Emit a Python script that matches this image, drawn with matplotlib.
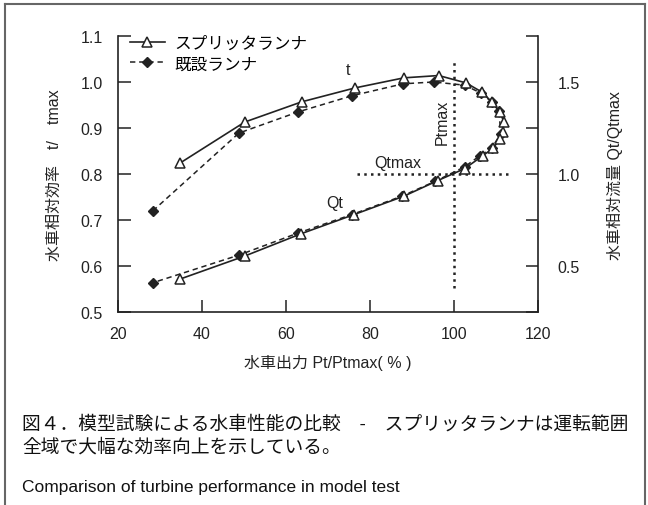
import matplotlib
matplotlib.use("Agg")
import matplotlib.pyplot as plt
from matplotlib.lines import Line2D

plt.rcParams['font.family'] = ['Liberation Sans', 'Noto Sans CJK JP', 'DejaVu Sans']

# splitter runner (triangles)
split_eff_x = [34.8, 50.2, 63.8, 76.4, 88.1, 96.4, 102.9, 106.7, 109.0, 111.0, 111.9]
split_eff_y = [0.824, 0.913, 0.957, 0.987, 1.009, 1.014, 0.998, 0.978, 0.957, 0.935, 0.913]
split_q_x = [111.7, 111.0, 109.3, 106.9, 102.6, 96.2, 88.1, 76.2, 63.5, 50.2, 34.8]
split_q_y = [1.23, 1.19, 1.14, 1.10, 1.03, 0.965, 0.88, 0.78, 0.675, 0.555, 0.43]

# existing runner (diamonds)
old_eff_x = [28.3, 48.8, 62.9, 75.7, 87.9, 95.2, 102.6, 106.4, 109.0, 110.7]
old_eff_y = [0.720, 0.889, 0.935, 0.970, 0.996, 1.000, 0.993, 0.976, 0.957, 0.937]
old_q_x = [111.2, 109.0, 106.2, 102.6, 95.5, 87.6, 75.7, 62.9, 48.8, 28.3]
old_q_y = [1.22, 1.14, 1.10, 1.04, 0.96, 0.88, 0.78, 0.68, 0.56, 0.41]

x_ticks = [20, 40, 60, 80, 100, 120]
eff_ticks = [0.5, 0.6, 0.7, 0.8, 0.9, 1.0, 1.1]
q_ticks = [0.5, 1.0, 1.5]
q_minor = [0.25, 0.75, 1.25, 1.75]


def q2eff(q):
    return 0.6 + (q - 0.5) / 2.5


def eff2q(e):
    return 0.5 + (e - 0.6) * 2.5


ink = '#222222'
fig = plt.figure(figsize=(6.48, 5.06), dpi=100)
ax = fig.add_axes([0.182, 0.381, 0.648, 0.546])

# each runner drawn as one continuous loop: efficiency then flow (mapped to left scale)
ax.plot(split_eff_x + split_q_x, split_eff_y + [q2eff(v) for v in split_q_y],
        color=ink, lw=1.2, marker='^', ms=7.5, mfc='white', mec=ink, mew=1.1,
        label='スプリッタランナ', zorder=3)
ax.plot(old_eff_x + old_q_x, old_eff_y + [q2eff(v) for v in old_q_y],
        color=ink, lw=1.1, ls=(0, (3.5, 2.5)), marker='D', ms=5, mfc=ink, mec=ink,
        label='既設ランナ', zorder=2)

# Ptmax / Qtmax reference lines
ax.plot([100, 100], [0.553, 1.045], color=ink, lw=1.8, ls=(0, (1, 1.7)))
ax.plot([77, 113.5], [0.8, 0.8], color=ink, lw=1.8, ls=(0, (1, 1.7)))
ax.text(97.2, 0.915, 'Ptmax', rotation=90, ha='center', va='center', fontsize=11.5, color=ink)
ax.text(86.7, 0.826, 'Qtmax', ha='center', va='center', fontsize=11.5, color=ink)
ax.text(71.7, 0.739, 'Qt', ha='center', va='center', fontsize=11.5, color=ink)
ax.text(74.8, 1.027, 't', ha='center', va='center', fontsize=11.5, color=ink)

ax.set_xlim(20, 120)
ax.set_ylim(0.5, 1.1)
ax.set_xticks(x_ticks)
ax.set_yticks(eff_ticks)
ax.set_yticklabels([f'{v:.1f}' for v in eff_ticks])
ax.tick_params(direction='in', length=9, width=1.1, color=ink, labelsize=11.5,
               labelcolor=ink, pad=11)
ax.tick_params(axis='x', pad=10)
for s in ['top', 'right']:
    ax.spines[s].set_visible(False)
for s in ['left', 'bottom']:
    ax.spines[s].set_color(ink)
    ax.spines[s].set_linewidth(1.2)

ax.set_xlabel('水車出力 Pt/Ptmax( % )', fontsize=11.5, color=ink, labelpad=9)
ax.set_ylabel('水車相対効率　t/　tmax', fontsize=11.5, color=ink, labelpad=13)

sec = ax.secondary_yaxis('right', functions=(eff2q, q2eff))
sec.set_yticks(q_ticks)
sec.set_yticklabels([f'{v:.1f}' for v in q_ticks])
sec.set_yticks(q_minor, minor=True)
sec.tick_params(which='both', direction='in', length=9, width=1.1, color=ink,
                labelsize=11.5, labelcolor=ink, pad=14)
sec.spines['right'].set_color(ink)
sec.spines['right'].set_linewidth(1.2)
sec.set_ylabel('水車相対流量 Qt/Qtmax', fontsize=11.5, color=ink, labelpad=20)

ax.legend(loc='upper left', bbox_to_anchor=(0.0, 1.045), frameon=False, fontsize=12,
          handlelength=2.1, handletextpad=0.6, labelspacing=0.35, borderaxespad=0.3)

# caption
fig.text(0.034, 0.160, '図４．模型試験による水車性能の比較　-　スプリッタランナは運転範囲',
         fontsize=13.5, color='#111111', va='center')
fig.text(0.034, 0.115, '全域で大幅な効率向上を示している。',
         fontsize=13.5, color='#111111', va='center')
fig.text(0.034, 0.036, 'Comparison of turbine performance in model test',
         fontsize=12.5, color='#111111', va='center')

# outer frame (left, top, right)
frame_kw = dict(color='#666666', lw=1.5, transform=fig.transFigure)
fig.add_artist(Line2D([0.007, 0.007], [0.0, 0.991], **frame_kw))
fig.add_artist(Line2D([0.007, 0.996], [0.991, 0.991], **frame_kw))
fig.add_artist(Line2D([0.996, 0.996], [0.0, 0.991], **frame_kw))

fig.savefig('out.png', dpi=100)
